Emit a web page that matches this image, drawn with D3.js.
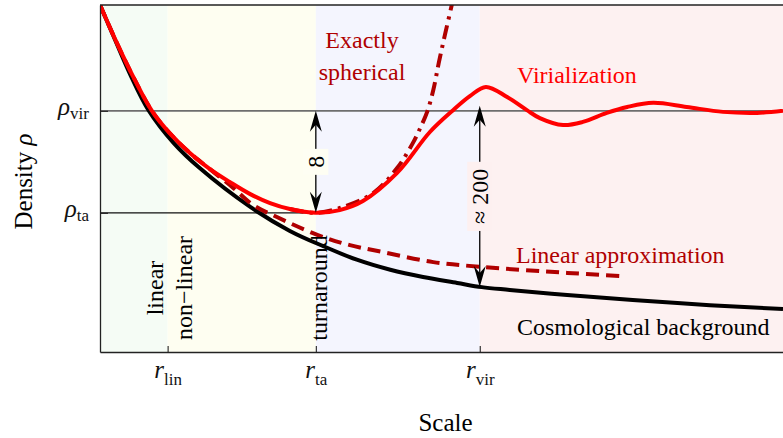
<!DOCTYPE html>
<html>
<head>
<meta charset="utf-8">
<script src="https://cdn.jsdelivr.net/npm/d3@7"></script>
<style>
  body { margin: 0; background: #fff; }
  svg, text, tspan { font-family: "Liberation Serif", "Times New Roman", "DejaVu Serif", serif; }
</style>
</head>
<body>
<div id="chart"></div>
<script>
// tick positions (arbitrary units)
const scaleTicks = [0.99, 3.16, 5.56];
const scaleSubs = ["lin", "ta", "vir"];
const densityTicks = [6.95, 4.01];
const densitySubs = ["vir", "ta"];

// coloured phases along the scale axis
const regionEdges = [0, 0.99, 3.16, 5.56, 10];
const regionColors = ["#f5fcf5", "#fefef1", "#f4f5fe", "#fdf1f1"];
const regionNames = ["linear", "non\u2212linear", "turnaround"];

// curves [scale, density]
const background = [[0, 10], [0.22, 9.0], [0.44, 8.01], [0.71, 6.97], [1.08, 6.02], [1.46, 5.3],
  [2.2, 4.18], [2.78, 3.49], [3.27, 3.05], [3.76, 2.66], [4.25, 2.37], [4.73, 2.16], [5.23, 1.99],
  [5.59, 1.87], [6.0, 1.79], [6.84, 1.64], [7.8, 1.5], [8.93, 1.35], [10, 1.24]];
const virial = [[0, 10], [0.26, 8.85], [0.51, 7.84], [0.76, 6.95], [1.02, 6.31], [1.32, 5.73],
  [1.61, 5.27], [1.9, 4.9], [2.2, 4.55], [2.49, 4.29], [2.78, 4.12], [3.16, 4.01], [3.51, 4.09],
  [3.85, 4.35], [4.35, 5.16], [4.83, 6.34], [5.17, 6.97], [5.42, 7.38], [5.65, 7.64], [5.96, 7.35],
  [6.25, 6.97], [6.44, 6.74], [6.78, 6.54], [7.07, 6.63], [7.42, 6.89], [7.72, 7.06], [8.1, 7.18],
  [8.59, 7.06], [9.12, 6.92], [9.62, 6.89], [10, 6.95]];
const linearApprox = [[0, 10], [0.26, 8.85], [0.51, 7.84], [0.76, 6.95], [1.02, 6.31], [1.32, 5.73],
  [1.61, 5.27], [1.95, 4.73], [2.24, 4.24], [2.59, 3.89], [3.19, 3.37], [3.66, 3.08], [4.14, 2.88],
  [4.88, 2.59], [5.61, 2.45], [6.84, 2.28], [7.61, 2.19]];
const spherical = [[2.78, 4.12], [3.16, 4.01], [3.51, 4.15], [4.0, 4.58], [4.35, 5.3], [4.58, 6.02],
  [4.69, 6.46], [4.79, 6.92], [4.88, 7.55], [4.96, 8.33], [5.05, 9.14], [5.15, 10.0], [5.21, 10.58]];

// density contrast arrows
const arrowX = [3.16, 5.56];
const arrowLow = [4.01, 1.87];
const arrowHigh = [6.95, 7.1];
const arrowLabels = ["8", "\u2248 200"];
const arrowBoxColors = ["#fefef3", "#fdf0f0"];

const W = 783, H = 438;
const margin = {top: 5, right: 0, bottom: 86, left: 100};
const serif = "'Liberation Serif', 'Times New Roman', 'DejaVu Serif', serif";

const svg = d3.select("#chart").append("svg")
  .attr("width", W).attr("height", H)
  .attr("font-family", serif);

const x = d3.scaleLinear().domain([0, 10]).range([margin.left, W - margin.right]);
const y = d3.scaleLinear().domain([0, 10]).range([H - margin.bottom, margin.top]);

svg.append("defs").append("clipPath").attr("id", "plot")
  .append("rect")
  .attr("x", x(0)).attr("y", y(10))
  .attr("width", x(10) - x(0)).attr("height", y(0) - y(10));

// phases
svg.append("g").selectAll("rect")
  .data(regionColors)
  .enter().append("rect")
  .attr("x", (d, i) => x(regionEdges[i]))
  .attr("width", (d, i) => x(regionEdges[i + 1]) - x(regionEdges[i]))
  .attr("y", y(10))
  .attr("height", y(0) - y(10))
  .attr("fill", d => d);

// reference densities
svg.append("line")
  .attr("x1", x(0)).attr("x2", x(10))
  .attr("y1", y(densityTicks[0])).attr("y2", y(densityTicks[0]))
  .attr("stroke", "#6e6e6e").attr("stroke-width", 1.6);
svg.append("line")
  .attr("x1", x(0)).attr("x2", x(scaleTicks[1]))
  .attr("y1", y(densityTicks[1])).attr("y2", y(densityTicks[1]))
  .attr("stroke", "#111").attr("stroke-width", 1.1);

// curves
const line = d3.line()
  .x(d => x(d[0]))
  .y(d => y(d[1]))
  .curve(d3.curveCatmullRom.alpha(0.5));

const curves = svg.append("g").attr("clip-path", "url(#plot)");
curves.append("path").datum(background)
  .attr("fill", "none").attr("stroke", "#000").attr("stroke-width", 4)
  .attr("d", line);
curves.append("path").datum(linearApprox)
  .attr("fill", "none").attr("stroke", "#b00000").attr("stroke-width", 4)
  .attr("stroke-dasharray", "13,7")
  .attr("d", line);
curves.append("path").datum(spherical)
  .attr("fill", "none").attr("stroke", "#b00000").attr("stroke-width", 4)
  .attr("stroke-dasharray", "14,6,3,6")
  .attr("d", line);
curves.append("path").datum(virial)
  .attr("fill", "none").attr("stroke", "#ff0000").attr("stroke-width", 4)
  .attr("d", line);

// frame top
svg.append("line")
  .attr("x1", x(0)).attr("x2", x(10))
  .attr("y1", y(10)).attr("y2", y(10))
  .attr("stroke", "#222").attr("stroke-width", 1.3);

// axes
const xAxis = svg.append("g")
  .attr("transform", `translate(0,${y(0)})`)
  .call(d3.axisBottom(x).tickValues(scaleTicks).tickSize(-6).tickSizeOuter(0));
const yAxis = svg.append("g")
  .attr("transform", `translate(${x(0)},0)`)
  .call(d3.axisLeft(y).tickValues(densityTicks).tickSize(-8).tickSizeOuter(0));

[xAxis, yAxis].forEach(g => {
  g.attr("font-family", serif).attr("font-size", null);
  g.select(".domain").attr("stroke", "#222").attr("stroke-width", 1.3);
  g.selectAll(".tick line").attr("stroke", "#222").attr("stroke-width", 1.1);
});

xAxis.selectAll(".tick text").each(function(d, i) {
  const t = d3.select(this).text(null)
    .attr("y", 26).attr("dy", null)
    .attr("fill", "#111").attr("text-anchor", "middle");
  t.append("tspan").attr("font-size", 25).attr("font-style", "italic").text("r");
  t.append("tspan").attr("font-size", 17).attr("dy", 7).text(scaleSubs[i]);
});
yAxis.selectAll(".tick text").each(function(d, i) {
  const t = d3.select(this).text(null)
    .attr("x", -11).attr("dy", null).attr("y", 4)
    .attr("fill", "#111").attr("text-anchor", "end");
  t.append("tspan").attr("font-size", 25).attr("font-style", "italic").text("\u03c1");
  t.append("tspan").attr("font-size", 17).attr("dy", 4).text(densitySubs[i]);
});

// axis titles
svg.append("text")
  .attr("x", (x(0) + x(10)) / 2 + 4).attr("y", 431)
  .attr("text-anchor", "middle").attr("font-size", 25)
  .text("Scale");
const yTitle = svg.append("text")
  .attr("transform", `translate(32,${y(5) + 3}) rotate(-90)`)
  .attr("text-anchor", "middle").attr("font-size", 25);
yTitle.append("tspan").text("Density ");
yTitle.append("tspan").attr("font-style", "italic").text("\u03c1");

// arrows with labels
function arrowHead(px, py, dir) {
  // dir = -1 points up, +1 points down
  const L = 21, w = 6, n = 14;
  return `M${px},${py} L${px - w},${py - dir * L} L${px},${py - dir * n} L${px + w},${py - dir * L} Z`;
}

arrowX.forEach((ax, i) => {
  const g = svg.append("g");
  const px = x(ax), top = y(arrowHigh[i]), bot = y(arrowLow[i]);
  g.append("line")
    .attr("x1", px).attr("x2", px)
    .attr("y1", top + 10).attr("y2", bot - 10)
    .attr("stroke", "#000").attr("stroke-width", 1.3);
  g.append("path").attr("d", arrowHead(px, top, -1)).attr("fill", "#000");
  g.append("path").attr("d", arrowHead(px, bot, 1)).attr("fill", "#000");

  const lab = g.append("g")
    .attr("transform", `translate(${px},${(top + bot) / 2}) rotate(-90)`);
  const box = lab.append("rect").attr("fill", arrowBoxColors[i]);
  const txt = lab.append("text")
    .attr("text-anchor", "middle")
    .attr("dy", 8)
    .attr("font-size", 24)
    .text(arrowLabels[i]);
  const w = txt.node().getComputedTextLength();
  box.attr("x", -w / 2 - 7).attr("width", w + 14)
    .attr("y", -12.5).attr("height", 25);
});

// phase labels, rotated, centred on the same height
const phaseX = [x(regionEdges[1]) - 5, x(regionEdges[1]) + 24, x(regionEdges[2]) + 11];
regionNames.forEach((name, i) => {
  svg.append("text")
    .attr("transform", `translate(${phaseX[i]},288) rotate(-90)`)
    .attr("text-anchor", "middle")
    .attr("font-size", 24)
    .attr("fill", "#000")
    .text(name);
});

// curve annotations
const notes = svg.append("g").attr("font-size", 24);
notes.append("text").attr("x", 362).attr("y", 48).attr("text-anchor", "middle")
  .attr("fill", "#b00000").text("Exactly");
notes.append("text").attr("x", 362).attr("y", 80).attr("text-anchor", "middle")
  .attr("fill", "#b00000").text("spherical");
notes.append("text").attr("x", 517).attr("y", 83)
  .attr("fill", "#ff0000").text("Virialization");
notes.append("text").attr("x", 516).attr("y", 263)
  .attr("fill", "#b00000").text("Linear approximation");
notes.append("text").attr("x", 517).attr("y", 335)
  .attr("fill", "#000").text("Cosmological background");
</script>
</body>
</html>
